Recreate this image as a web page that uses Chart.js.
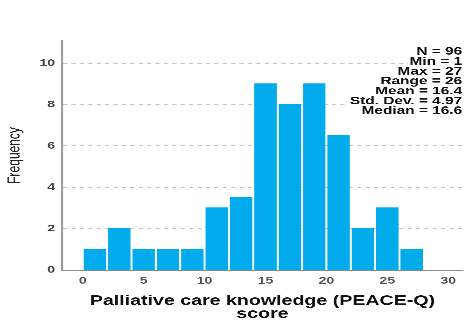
<!DOCTYPE html>
<html>
<head>
<meta charset="utf-8">
<script src="https://cdn.jsdelivr.net/npm/chart.js@4/dist/chart.umd.min.js"></script>
<style>
  html, body { margin: 0; padding: 0; background: #fff; overflow: hidden; }
  /* SPSS-style output, stretched horizontally */
  #wrap { width: 332px; height: 320px; transform: scaleX(1.4); transform-origin: 0 0; }
</style>
</head>
<body>
<div id="wrap"><canvas id="c"></canvas></div>
<script>
// Histogram bins (width 2) and their frequencies
const binStarts = [0, 2, 4, 6, 8, 10, 12, 14, 16, 18, 20, 22, 24, 26];
const binWidth = 2;
const frequencies = [1, 2, 1, 1, 1, 3, 3.5, 9, 8, 9, 6.5, 2, 3, 1];

// Axis tick labels
const xTickValues = [0, 5, 10, 15, 20, 25, 30];
const yTickValues = [0, 2, 4, 6, 8, 10];

// Summary statistics box
const statLabels = ["N = 96", "Min = 1", "Max = 27", "Range = 26", "Mean = 16.4", "Std. Dev. = 4.97", "Median = 16.6"];

const FONT = "'Liberation Sans', Arial, sans-serif";

const statsBox = {
  id: 'statsBox',
  afterDraw(chart) {
    const ctx = chart.ctx;
    const right = chart.chartArea.right - 0.5;
    ctx.save();
    ctx.font = 'bold 11px ' + FONT;
    ctx.textAlign = 'right';
    ctx.textBaseline = 'middle';
    statLabels.forEach((s, i) => {
      const y = 51.7 + i * 9.9;
      const w = ctx.measureText(s).width;
      ctx.fillStyle = '#fff';
      ctx.fillRect(right - w - 1, y - 4.5, w + 1, 9);
      ctx.fillStyle = '#111';
      ctx.fillText(s, right, y);
    });
    ctx.restore();
  }
};

new Chart(document.getElementById('c'), {
  type: 'bar',
  data: {
    datasets: [{
      data: binStarts.map((b, i) => ({ x: b + binWidth / 2, y: frequencies[i] })),
      backgroundColor: '#02ACEC',
      borderWidth: 0,
      inflateAmount: 0.6,
      barPercentage: 0.851,
      categoryPercentage: 1
    }]
  },
  options: {
    responsive: true,
    maintainAspectRatio: false,
    devicePixelRatio: 3,
    animation: false,
    layout: { padding: { top: 41, right: 1.4, left: 0, bottom: 0 } },
    plugins: { legend: { display: false }, tooltip: { enabled: false } },
    scales: {
      x: {
        type: 'linear',
        offset: false,
        z: 1,
        min: -1.7,
        max: 31.2,
        afterBuildTicks: s => { s.ticks = xTickValues.map(v => ({ value: v })); },
        afterFit: s => { s.height = 50; },
        grid: { display: false, drawTicks: false, offset: false },
        border: { display: true, color: '#8a8a8a', width: 1 },
        ticks: {
          padding: 5,
          color: '#555',
          font: { family: FONT, size: 10, weight: 'bold' },
          maxRotation: 0
        },
        title: {
          display: true,
          text: ['Palliative care knowledge (PEACE-Q)', 'score'],
          color: '#111',
          font: { family: FONT, size: 14, weight: 'bold', lineHeight: '13px' },
          padding: { top: 0, bottom: -0.5 }
        }
      },
      y: {
        min: 0,
        max: 11.08,
        afterBuildTicks: s => { s.ticks = yTickValues.map(v => ({ value: v })); },
        afterFit: s => { s.width = 44.3; },
        grid: {
          drawTicks: false,
          color: ctx => (ctx.tick && ctx.tick.value === 0) ? 'rgba(0,0,0,0)' : '#c4c4c4',
          lineWidth: 1
        },
        border: { display: true, color: '#9a9a9a', width: 1.4, dash: [3, 3] },
        ticks: {
          padding: 5,
          color: '#444',
          font: { family: FONT, size: 10, weight: 'bold' }
        },
        title: {
          display: true,
          text: 'Frequency',
          color: '#222',
          font: { family: FONT, size: 12 },
          padding: { top: 3.5, bottom: 0 }
        }
      }
    }
  },
  plugins: [statsBox]
});
</script>
</body>
</html>
